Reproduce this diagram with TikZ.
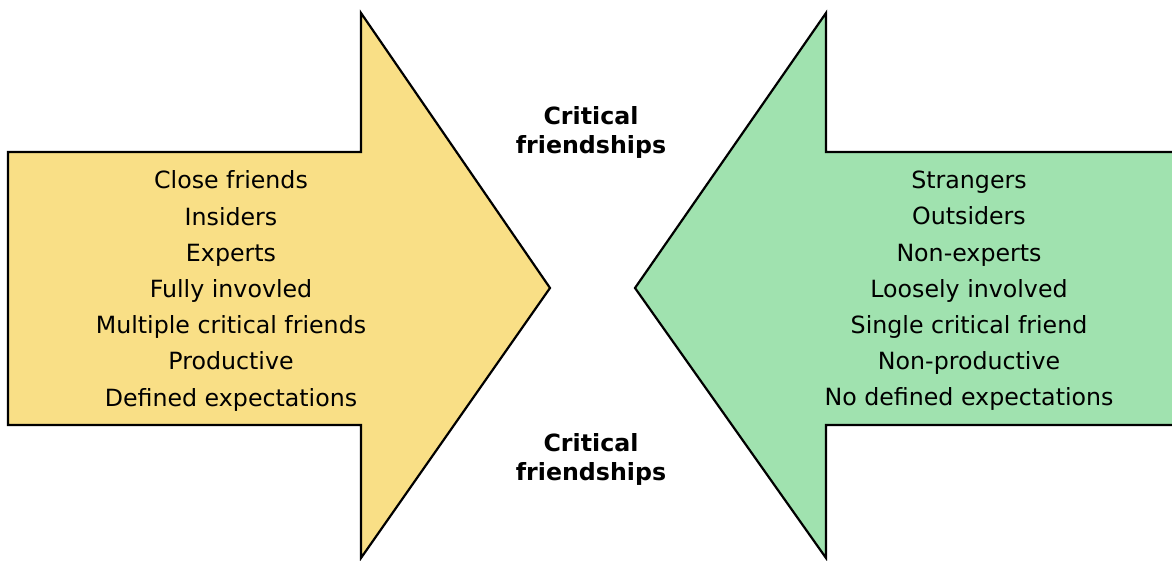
\documentclass[tikz,border=0pt]{standalone}
\usepackage{fontspec}
\setmainfont{DejaVu Sans}
\definecolor{armyellow}{HTML}{F9DF86}
\definecolor{armgreen}{HTML}{A0E2AF}
\begin{document}
\begin{tikzpicture}[x=1pt,y=1pt,
  arrowshape/.style={draw=black,line width=2.2pt,line join=miter},
  listtext/.style={align=center,inner sep=0pt,font={\fontsize{23.7}{36.2}\selectfont}},
  midlabel/.style={align=center,inner sep=0pt,font={\bfseries\fontsize{23.7}{29}\selectfont}}]
  \useasboundingbox (0,0) rectangle (1172,560);
  \clip (0,0) rectangle (1172,560);
  % yellow arrow pointing right
  \draw[arrowshape,fill=armyellow] (8,408) -- (361,408) -- (361,547) -- (550,272)
    -- (361,2) -- (361,135) -- (8,135) -- cycle;
  % green arrow pointing left, its tail runs off the right edge
  \draw[arrowshape,fill=armgreen] (1185,408) -- (826,408) -- (826,547) -- (635,272)
    -- (826,2) -- (826,135) -- (1185,135) -- cycle;
  \node[listtext] (left) at (231,269) {Close friends\\Insiders\\Experts\\Fully invovled\\Multiple critical friends\\Productive\\Defined expectations};
  \node[listtext] (right) at (969,269) {Strangers\\Outsiders\\Non-experts\\Loosely involved\\Single critical friend\\Non-productive\\No defined expectations};
  \node[midlabel] (top) at (591,428) {Critical\\friendships};
  \node[midlabel] (bottom) at (591,101) {Critical\\friendships};
\end{tikzpicture}
\end{document}
